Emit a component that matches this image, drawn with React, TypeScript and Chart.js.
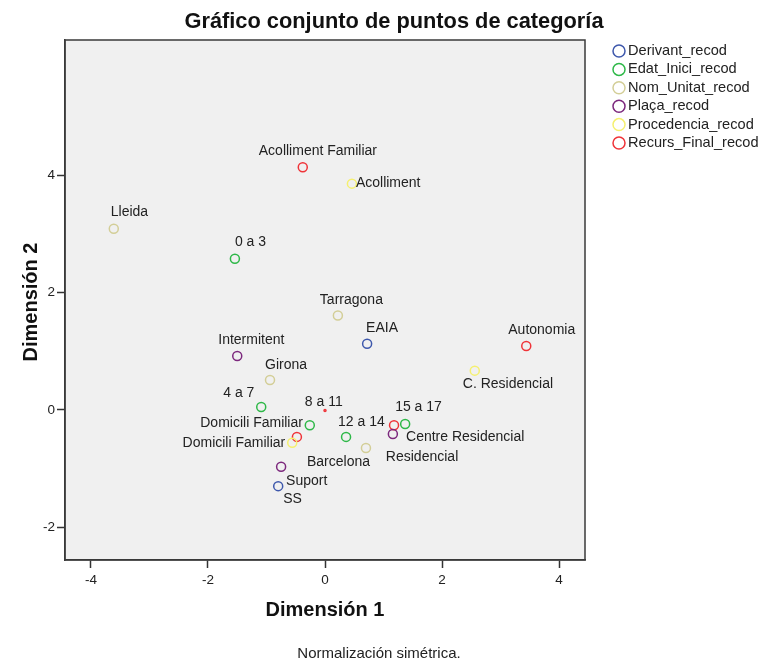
import React, { useEffect, useRef } from "react";
import { Chart, registerables } from "chart.js";

Chart.register(...registerables);

const FONT = '"Liberation Sans", Arial, sans-serif';

// ---- Data ----
const seriesNames = [
  "Derivant_recod",
  "Edat_Inici_recod",
  "Nom_Unitat_recod",
  "Plaça_recod",
  "Procedencia_recod",
  "Recurs_Final_recod",
];

const derivantLabels = ["EAIA", "SS"];
const derivantX = [0.72, -0.8];
const derivantY = [1.13, -1.3];

const edatLabels = ["0 a 3", "4 a 7", "8 a 11", "12 a 14", "15 a 17"];
const edatX = [-1.54, -1.09, -0.26, 0.36, 1.37];
const edatY = [2.58, 0.05, -0.26, -0.46, -0.24];

const unitatLabels = ["Lleida", "Tarragona", "Girona", "Barcelona"];
const unitatX = [-3.61, 0.22, -0.94, 0.7];
const unitatY = [3.09, 1.61, 0.51, -0.65];

const placaLabels = ["Intermitent", "Residencial", "Suport"];
const placaX = [-1.5, 1.16, -0.75];
const placaY = [0.92, -0.41, -0.97];

const procedenciaLabels = ["Acolliment", "C. Residencial", "Domicili Familiar"];
const procedenciaX = [0.46, 2.56, -0.56];
const procedenciaY = [3.86, 0.67, -0.56];

const recursLabels = ["Acolliment Familiar", "Autonomia", "Centre Residencial", "Domicili Familiar", ""];
const recursX = [-0.38, 3.44, 1.18, -0.48, 0.0];
const recursY = [4.14, 1.09, -0.26, -0.46, -0.01];

const xTicks = [-4, -2, 0, 2, 4];
const yTicks = [-2, 0, 2, 4];

// ---- Styles (label placement, colours, sizes) ----
type Place = { dx: number; dy: number; align?: CanvasTextAlign };
const derivantPlace: Place[] = [{ dx: -1, dy: -16 }, { dx: 5, dy: 13 }];
const edatPlace: Place[] = [
  { dx: 0, dy: -17 },
  { dx: -38, dy: -14 },
  { dx: -5, dy: -23 },
  { dx: -8, dy: -15 },
  { dx: -10, dy: -17 },
];
const unitatPlace: Place[] = [
  { dx: -3, dy: -17 },
  { dx: -18, dy: -15 },
  { dx: -5, dy: -15 },
  { dx: -59, dy: 14 },
];
const placaPlace: Place[] = [
  { dx: -19, dy: -16 },
  { dx: -7, dy: 23 },
  { dx: 5, dy: 14 },
];
const procedenciaPlace: Place[] = [
  { dx: 4, dy: 0 },
  { dx: -12, dy: 13 },
  { dx: -7, dy: 0, align: "right" },
];
const recursPlace: Place[] = [
  { dx: -44, dy: -16 },
  { dx: -18, dy: -16 },
  { dx: 12, dy: 12 },
  { dx: 6, dy: -14, align: "right" },
  { dx: 0, dy: 0 },
];

const colors = ["#3E58AC", "#2EB848", "#D3CE97", "#7C287D", "#F5F070", "#EF3338"];

function pts(xs: number[], ys: number[]) {
  return xs.map((x, i) => ({ x, y: ys[i] }));
}

const decorPlugin = {
  id: "decor",
  beforeDraw(chart: any) {
    const { ctx, chartArea: a } = chart;
    ctx.save();
    ctx.fillStyle = "#ffffff";
    ctx.fillRect(0, 0, chart.width, chart.height);
    ctx.fillStyle = "#F0F0F0";
    ctx.fillRect(a.left, a.top, a.right - a.left, a.bottom - a.top);
    ctx.restore();
  },
  afterDatasetsDraw(chart: any) {
    const ctx = chart.ctx;
    ctx.save();
    ctx.font = `14px ${FONT}`;
    ctx.fillStyle = "#222";
    ctx.textBaseline = "middle";
    chart.data.datasets.forEach((ds: any, i: number) => {
      const meta = chart.getDatasetMeta(i);
      meta.data.forEach((el: any, j: number) => {
        const lbl = ds.pointLabels[j];
        if (!lbl) return;
        const p = ds.placements[j];
        ctx.textAlign = p.align || "left";
        ctx.fillText(lbl, el.x + p.dx, el.y + p.dy);
      });
    });
    ctx.restore();
  },
  afterDraw(chart: any) {
    const { ctx, chartArea: a } = chart;
    ctx.save();
    // frame
    ctx.strokeStyle = "#3a3a3a";
    ctx.lineWidth = 1.5;
    ctx.strokeRect(a.left, a.top, a.right - a.left, a.bottom - a.top);
    // title
    ctx.fillStyle = "#111";
    ctx.textAlign = "center";
    ctx.textBaseline = "middle";
    ctx.font = `bold 21.8px ${FONT}`;
    ctx.fillText("Gráfico conjunto de puntos de categoría", 394, 22);
    // axis titles
    ctx.font = `bold 20px ${FONT}`;
    ctx.fillText("Dimensión 1", (a.left + a.right) / 2, 610);
    ctx.save();
    ctx.translate(31, (a.top + a.bottom) / 2 + 2);
    ctx.rotate(-Math.PI / 2);
    ctx.fillText("Dimensión 2", 0, 0);
    ctx.restore();
    // footnote
    ctx.font = `15px ${FONT}`;
    ctx.fillStyle = "#222";
    ctx.fillText("Normalización simétrica.", 379, 654);
    // legend
    ctx.font = `14.6px ${FONT}`;
    ctx.textAlign = "left";
    chart.data.datasets.forEach((ds: any, i: number) => {
      const y = 51 + i * 18.4;
      ctx.beginPath();
      ctx.arc(619, y, 6, 0, Math.PI * 2);
      ctx.strokeStyle = ds.borderColor;
      ctx.lineWidth = 1.5;
      ctx.stroke();
      ctx.fillStyle = "#222";
      ctx.fillText(ds.label, 628, y);
    });
    ctx.restore();
  },
};

export default function App() {
  const ref = useRef<HTMLCanvasElement | null>(null);

  useEffect(() => {
    document.body.style.margin = "0";
    document.body.style.overflow = "hidden";
    const canvas = ref.current;
    if (!canvas) return;

    const groups = [
      { labels: derivantLabels, x: derivantX, y: derivantY, place: derivantPlace },
      { labels: edatLabels, x: edatX, y: edatY, place: edatPlace },
      { labels: unitatLabels, x: unitatX, y: unitatY, place: unitatPlace },
      { labels: placaLabels, x: placaX, y: placaY, place: placaPlace },
      { labels: procedenciaLabels, x: procedenciaX, y: procedenciaY, place: procedenciaPlace },
      { labels: recursLabels, x: recursX, y: recursY, place: recursPlace },
    ];

    const datasets = groups.map((g, i) => ({
      label: seriesNames[i],
      data: pts(g.x, g.y),
      pointLabels: g.labels,
      placements: g.place,
      borderColor: colors[i],
      backgroundColor: "rgba(0,0,0,0)",
      pointBorderWidth: 1.5,
      pointRadius: g.labels.map((l) => (l ? 4.5 : 1)),
      pointStyle: "circle",
    }));

    const tickFont = { family: FONT, size: 13.5 };

    const chart = new Chart(canvas, {
      type: "scatter",
      data: { datasets } as any,
      options: {
        responsive: false,
        animation: false,
        layout: { padding: { top: 40, right: 177, left: 0, bottom: 0 } },
        plugins: {
          legend: { display: false },
          title: { display: false },
          tooltip: { enabled: false },
        },
        scales: {
          x: {
            type: "linear",
            min: -4.444,
            max: 4.444,
            afterBuildTicks: (s: any) => {
              s.ticks = xTicks.map((v) => ({ value: v }));
            },
            afterFit: (s: any) => {
              s.height = 100;
            },
            grid: {
              drawOnChartArea: false,
              drawTicks: true,
              tickLength: 8,
              tickWidth: 1.5,
              tickColor: "#333",
            },
            border: { display: true, color: "#3a3a3a", width: 1.5 },
            ticks: { font: tickFont, color: "#222", padding: 4, maxRotation: 0 },
          },
          y: {
            type: "linear",
            min: -2.56,
            max: 6.31,
            afterBuildTicks: (s: any) => {
              s.ticks = yTicks.map((v) => ({ value: v }));
            },
            afterFit: (s: any) => {
              s.width = 65;
            },
            grid: {
              drawOnChartArea: false,
              drawTicks: true,
              tickLength: 8,
              tickWidth: 1.5,
              tickColor: "#333",
            },
            border: { display: true, color: "#3a3a3a", width: 1.5 },
            ticks: { font: tickFont, color: "#222", padding: 2 },
          },
        },
      },
      plugins: [decorPlugin],
    } as any);

    return () => chart.destroy();
  }, []);

  return (
    <div style={{ position: "absolute", left: 0, top: 0, width: 762, height: 660 }}>
      <canvas ref={ref} width={762} height={660} style={{ display: "block", width: 762, height: 660 }} />
    </div>
  );
}
